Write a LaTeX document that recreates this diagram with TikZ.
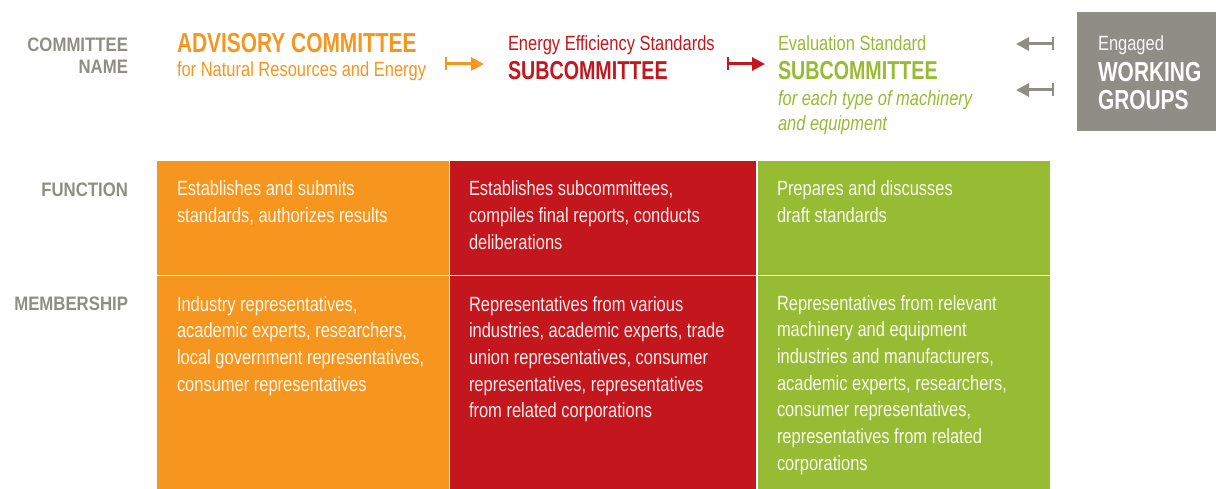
\documentclass[tikz,border=0pt]{standalone}
\usepackage{fontspec}
\setmainfont{Liberation Sans}[FakeStretch=0.8]
\newfontfamily\headbold{Liberation Sans}[FakeStretch=0.76]
\newfontfamily\labelbold{Liberation Sans}[FakeStretch=0.86]
\usetikzlibrary{arrows.meta}

\definecolor{cOrange}{HTML}{F6961F}
\definecolor{cRed}{HTML}{C4161D}
\definecolor{cGreen}{HTML}{97BB33}
\definecolor{cGray}{HTML}{8F8E86}

\newcommand\setfs[2]{\fontsize{#1}{#2}\selectfont}

\tikzset{
  txt/.style={anchor=base west, inner sep=0pt, outer sep=0pt},
  rowlabel/.style={anchor=base east, inner sep=0pt, outer sep=0pt, text=cGray,
    font=\labelbold\bfseries\setfs{19.5pt}{22pt}},
  title/.style={txt, font=\headbold\bfseries\setfs{27.5pt}{30pt}},
  subtitle/.style={txt, font=\setfs{20.6pt}{24.3pt}},
  body/.style={txt, text=white, text opacity=0.92, font=\setfs{20.6pt}{26.7pt}},
  cell/.style={anchor=north west, inner sep=0pt, outer sep=0pt, draw=none},
  link/.style={line width=3pt, {Bar[width=13pt, line width=2pt]}-{Triangle[length=13pt, width=13pt]}},
}

\begin{document}
\begin{tikzpicture}[x=1pt, y=-1pt]
\useasboundingbox (0,0) rectangle (1216,489);

% ---- row labels ----
\node[rowlabel] (lname) at (128,52) {\parbox[t]{120pt}{\raggedleft COMMITTEE\\NAME}};
\node[rowlabel] (lfunc) at (128,197) {FUNCTION};
\node[rowlabel] (lmemb) at (128,310) {MEMBERSHIP};

% ---- committee names ----
\node[title, text=cOrange] (advT) at (177,53) {ADVISORY COMMITTEE};
\node[subtitle, text=cOrange] (advS) at (177,77) {for Natural Resources and Energy};

\node[subtitle, text=cRed] (eesS) at (508,51) {Energy Efficiency Standards};
\node[title, text=cRed, font=\headbold\bfseries\setfs{25.9pt}{30pt}] (eesT) at (508,80) {SUBCOMMITTEE};

\node[subtitle, text=cGreen] (evS) at (778,51) {Evaluation Standard};
\node[title, text=cGreen, font=\headbold\bfseries\setfs{25.9pt}{30pt}] (evT) at (778,80) {SUBCOMMITTEE};
\node[subtitle, text=cGreen, font=\itshape\setfs{20.6pt}{24.3pt}] (evI) at (778,106)
  {\parbox[t]{260pt}{\raggedright for each type of machinery\\and equipment}};

% ---- working groups box ----
\node[cell, fill=cGray, minimum width=139pt, minimum height=119pt] (wgBox) at (1077,12) {};
\node[subtitle, text=white, text opacity=0.92] (wgS) at (1098,51) {Engaged};
\node[title, text=white] (wgT1) at (1098,82) {WORKING};
\node[title, text=white] (wgT2) at (1098,110) {GROUPS};

% ---- arrows between the committee names ----
\coordinate (a1s) at (445,64);  \coordinate (a1e) at (484,64);
\coordinate (a2s) at (727,64);  \coordinate (a2e) at (765,64);
\coordinate (a3s) at (1054,44); \coordinate (a3e) at (1016,44);
\coordinate (a4s) at (1054,90); \coordinate (a4e) at (1016,90);
\draw[link, cOrange] (a1s) -- (a1e);
\draw[link, cRed] (a2s) -- (a2e);
\draw[link, cGray] (a3s) -- (a3e);
\draw[link, cGray] (a4s) -- (a4e);

% ---- grid of cells ----
\node[cell, fill=cOrange, minimum width=292.7pt, minimum height=328pt] (cO) at (157.3,161) {};
\node[cell, fill=cRed, minimum width=307.5pt, minimum height=328pt] (cR) at (449.5,161) {};
\node[cell, fill=cGreen, minimum width=293pt, minimum height=328pt] (cG) at (757,161) {};
\draw[white, line width=1.3pt] (cR.north west) -- (cR.south west);
\draw[white, line width=1.3pt] (cG.north west) -- (cG.south west);
\coordinate (hl) at (157.3,275.6);
\coordinate (hr) at (1050,275.6);
\draw[white, line width=1.3pt] (hl) -- (hr);

% ---- function row ----
\node[body] (fO) at (177,196) {\parbox[t]{265pt}{\raggedright
  Establishes and submits\\standards, authorizes results}};
\node[body] (fR) at (469,196) {\parbox[t]{280pt}{\raggedright
  Establishes subcommittees,\\compiles final reports, conducts\\deliberations}};
\node[body] (fG) at (777,196) {\parbox[t]{265pt}{\raggedright
  Prepares and discusses\\draft standards}};

% ---- membership row ----
\node[body] (mO) at (177,311) {\parbox[t]{265pt}{\raggedright
  Industry representatives,\\academic experts, researchers,\\local government representatives,\\consumer representatives}};
\node[body] (mR) at (469,311) {\parbox[t]{280pt}{\raggedright
  Representatives from various\\industries, academic experts, trade\\union representatives, consumer\\representatives, representatives\\from related corporations}};
\node[body] (mG) at (777,310) {\parbox[t]{265pt}{\raggedright
  Representatives from relevant\\machinery and equipment\\industries and manufacturers,\\academic experts, researchers,\\consumer representatives,\\representatives from related\\corporations}};
\end{tikzpicture}
\end{document}
